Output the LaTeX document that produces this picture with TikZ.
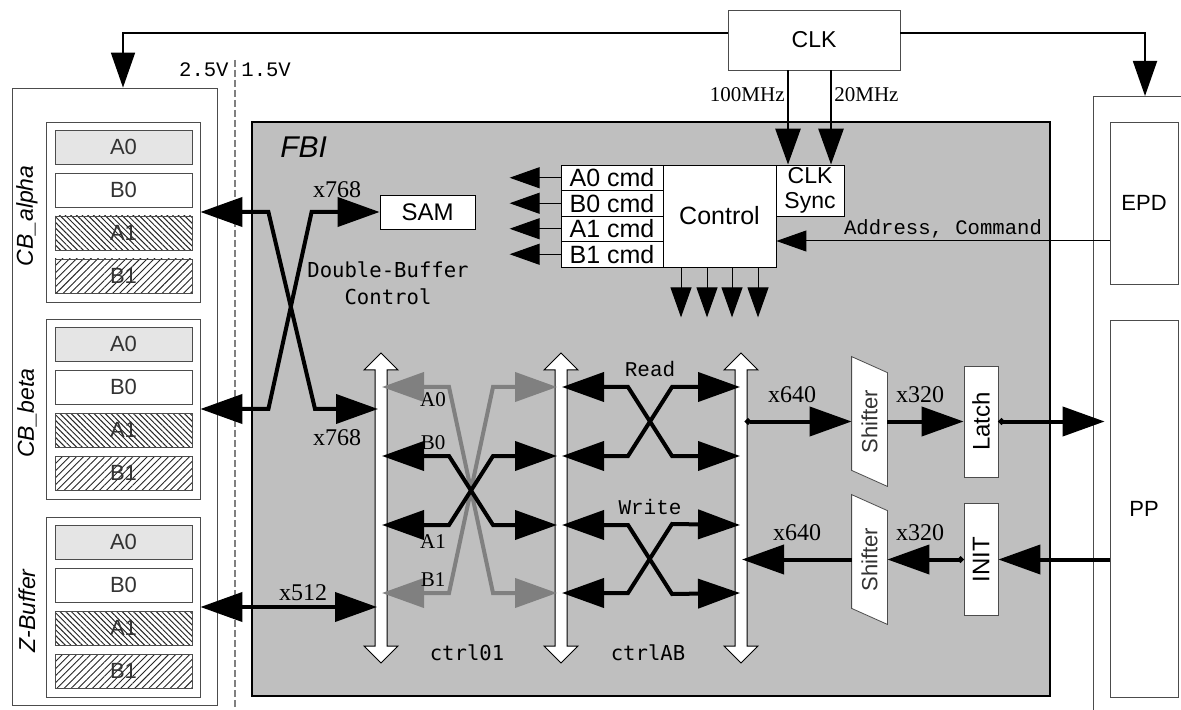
\documentclass[tikz,border=0pt]{standalone}
\usepackage{fontspec}
\setmainfont{Liberation Serif}
\setsansfont{Liberation Sans}
\setmonofont{Liberation Mono}
\newfontfamily\gulimfont{DejaVu Sans Mono}
\usetikzlibrary{arrows.meta,patterns.meta,calc,positioning}

\begin{document}
\begin{tikzpicture}[x=0.5pt, y=-0.5pt,
    box/.style={draw, fill=white, inner sep=0pt, font=\sffamily\fontsize{12.5}{14}\selectfont},
    frame/.style={draw=black!70, fill=white, inner sep=0pt, font=\sffamily\fontsize{11}{13}\selectfont},
    slot/.style={draw=black!70, inner sep=0pt, minimum width=68.5pt, minimum height=17pt, text=black!80, font=\sffamily\fontsize{11}{13}\selectfont},
    hatchA/.style={slot, pattern={Lines[angle=-45,distance=2pt,line width=0.5pt]}, pattern color=black!85},
    hatchB/.style={slot, pattern={Lines[angle=45,distance=2.5pt,line width=0.45pt]}, pattern color=black!85},
    busbar/.style={draw, fill=white, line width=0.5pt},
    numfont/.style={inner sep=1pt, font=\rmfamily\fontsize{12}{14}\selectfont},
    rowfont/.style={inner sep=1pt, font=\rmfamily\fontsize{10.5}{12}\selectfont},
    monofont/.style={inner sep=1pt, font=\ttfamily\fontsize{10.3}{12}\selectfont},
    gulim/.style={inner sep=1pt, font=\gulimfont\fontsize{10.3}{13.5}\selectfont},
    big/.style={line width=2pt, -{Triangle[length=21pt,width=14.5pt]}},
    bigboth/.style={line width=2pt, {Triangle[length=21pt,width=14.5pt]}-{Triangle[length=21pt,width=14.5pt]}},
    grayboth/.style={bigboth, draw=black!50},
    dotbig/.style={line width=2pt, {Circle[length=3pt]}-{Triangle[length=21pt,width=14.5pt]}},
    thinarr/.style={line width=0.5pt, -{Triangle[length=15pt,width=10.5pt]}},
    clkarr/.style={line width=0.9pt, -{Triangle[length=17.5pt,width=12pt]}},
    clkin/.style={line width=1.4pt, -{Triangle[length=18pt,width=12.5pt]}}
]
\useasboundingbox (0,0) rectangle (1181,710);

\node[frame, minimum width=102.5pt, minimum height=308.5pt] (mem) at (114.5,396.5) {};
\foreach \grp/\top/\name in {cba/122/CB\_alpha, cbb/319/CB\_beta, zbuf/517/Z-Buffer}{
  \node[frame, minimum width=77pt, minimum height=90pt] (\grp) at (123,\top+90) {};
  \node[slot, fill=black!10] (\grp-a0) at (123.5,\top+25) {A0};
  \node[slot, fill=white] (\grp-b0) at (123.5,\top+68) {B0};
  \node[hatchA] (\grp-a1) at (123.5,\top+111) {A1};
  \node[hatchB] (\grp-b1) at (123.5,\top+154) {B1};
  \node[rotate=90, font=\sffamily\itshape\fontsize{11.5}{13}\selectfont] (\grp-lab) at (27,\top+94) {\name};
}

\draw[black!50, line width=1pt, dash pattern=on 3.5pt off 1.5pt] (235,60) -- (235,710);
\node[monofont, anchor=east, font=\ttfamily\fontsize{10.3}{12}\selectfont] (v25) at (231,70) {2.5V};
\node[monofont, anchor=west, font=\ttfamily\fontsize{10.3}{12}\selectfont] (v15) at (239,70) {1.5V};

\node[draw, line width=1.1pt, fill=black!25, minimum width=399pt, minimum height=287pt] (fbi) at (651,409) {};
\node[anchor=west, inner sep=0pt, font=\sffamily\itshape\fontsize{15}{17}\selectfont] (fbilab) at (280,147) {FBI};

\node[box, draw=black!70, minimum width=86pt, minimum height=30pt, font=\sffamily\fontsize{11.5}{13}\selectfont] (clk) at (814,40) {CLK};
\draw[black!70] (1181,96) -- (1093,96) -- (1093,710);
\coordinate (devtop) at (1145,96);
\node[frame, minimum width=34pt, minimum height=81pt] (epd) at (1144,203) {EPD};
\node[frame, minimum width=34pt, minimum height=188.5pt] (pp) at (1144,508.5) {PP};

\draw[clkarr] ([yshift=3.5pt]clk.west) -| ([xshift=4.25pt]mem.north);
\draw[clkarr] ([yshift=3.5pt]clk.east) -| (devtop);

\foreach \i/\lab in {0/A0, 1/B0, 2/A1, 3/B1}{
  \node[box, minimum width=51pt, minimum height=12.75pt] (cmd\i) at (612,177.75+25.5*\i) {\lab\ cmd};
  \draw[thinarr] (cmd\i.west) -- ++(-51,0);
}
\node[box, minimum width=56.5pt, minimum height=51pt] (ctl) at (719.5,216) {Control};
\node[box, minimum width=34pt, minimum height=25.5pt, align=center, font=\sffamily\fontsize{11.5}{12.5}\selectfont] (sync) at (810,190.5) {CLK\\Sync};
\foreach \dx in {-19.25,-6.25,6.25,19.25}
  \draw[thinarr] ([xshift=\dx pt]ctl.south) -- ++(0,50);

\draw[clkin] ([xshift=-13pt]clk.south) -- ([xshift=-11pt]sync.north) node[pos=0.26, left, rowfont] (f100) {100MHz};
\draw[clkin] ([xshift=8.5pt]clk.south) -- ([xshift=10.5pt]sync.north) node[pos=0.26, right, rowfont] (f20) {20MHz};
\draw[thinarr] ([yshift=-19pt]epd.west) -- ([yshift=-12.5pt]ctl.east) node[midway, above, monofont] (addr) {Address, Command};

\node[box, minimum width=47.5pt, minimum height=17pt, font=\sffamily\fontsize{12}{14}\selectfont] (sam) at (427.5,212) {SAM};
\node[gulim, align=center] (dbc) at (388,283.5) {Double-Buffer\\Control};

\foreach \bx/\bn in {381/bus1, 561/bus2, 741/bus3}{
  \draw[busbar] (\bx,353) -- (\bx+17,370) -- (\bx+6,370) -- (\bx+6,646) -- (\bx+17,646) -- (\bx,663) -- (\bx-17,646) -- (\bx-6,646) -- (\bx-6,370) -- (\bx-17,370) -- cycle;
  \coordinate (\bn) at (\bx,508);
}
\coordinate (r1) at (0,387);
\coordinate (r2) at (0,456);
\coordinate (r3) at (0,525);
\coordinate (r4) at (0,593);

\draw[bigboth] (cba.east) -- ++(68,0) -- ([xshift=-33pt]bus1 |- cbb.east) -- ([xshift=-1.5pt]bus1 |- cbb.east);
\draw[bigboth] (cbb.east) -- ++(68,0) -- ([xshift=-34pt]sam.west) -- (sam.west);
\draw[bigboth] (zbuf.east) -- ([xshift=-2pt]bus1 |- zbuf.east);
\node[numfont] (w768a) at (337,190) {x768};
\node[numfont] (w768b) at (337,438) {x768};
\node[numfont] (w512) at (303,593) {x512};

\draw[grayboth] ([xshift=0.5pt]bus1 |- r1) -- ++(67,0) -- ++(44,206) -- ([xshift=-2pt]bus2 |- r4);
\draw[grayboth] ([xshift=0.5pt]bus1 |- r4) -- ++(67,0) -- ++(44,-206) -- ([xshift=-2pt]bus2 |- r1);
\draw[bigboth] ([xshift=0.5pt]bus1 |- r2) -- ++(67,0) -- ++(44,69) -- ([xshift=-2pt]bus2 |- r3);
\draw[bigboth] ([xshift=0.5pt]bus1 |- r3) -- ++(67,0) -- ++(44,-69) -- ([xshift=-2pt]bus2 |- r2);
\node[rowfont] (la0) at (433,400) {A0};
\node[rowfont] (lb0) at (433,443) {B0};
\node[rowfont] (la1) at (433,542) {A1};
\node[rowfont] (lb1) at (433,580) {B1};

\foreach \ra/\rb in {r1/r2, r3/r4}{
  \draw[bigboth] ([xshift=0.5pt]bus2 |- \ra) -- ++(66,0) -- ++(44,69) -- ([xshift=-0.5pt]bus3 |- \rb);
  \draw[bigboth] ([xshift=0.5pt]bus2 |- \rb) -- ++(66,0) -- ++(44,-69) -- ([xshift=-0.5pt]bus3 |- \ra);
}
\node[monofont, font=\ttfamily\fontsize{10.5}{12}\selectfont] (lread) at (650,369) {Read};
\node[monofont, font=\ttfamily\fontsize{10.5}{12}\selectfont] (lwrite) at (650,507) {Write};
\node[gulim] (lc01) at (467,653) {ctrl01};
\node[gulim] (lcab) at (648,653) {ctrlAB};

\foreach \sn/\sy in {sh1/421.5, sh2/559.5}{
  \node[minimum width=17.5pt, minimum height=64.5pt, inner sep=0pt] (\sn) at (869.5,\sy) {};
  \draw[black!70, fill=white] (\sn.north west) -- ([yshift=-8pt]\sn.north east) -- (\sn.south east) -- ([yshift=8pt]\sn.south west) -- cycle;
  \node[inner sep=0pt, text=black!80, font=\sffamily\fontsize{11}{13}\selectfont] (\sn-t) at (\sn) {\rotatebox{90}{Shifter}};
}
\node[frame, minimum width=17pt, minimum height=55.5pt, font=\sffamily\fontsize{12}{13}\selectfont] (latch) at (981,421.5) {\rotatebox{90}{Latch}};
\node[frame, minimum width=17pt, minimum height=56pt, font=\sffamily\fontsize{12}{13}\selectfont] (init) at (981,559.5) {\rotatebox{90}{INIT}};

\draw[dotbig] ([xshift=2pt]bus3 |- sh1.west) -- (sh1.west);
\draw[big] (sh1.east) -- (latch.west);
\draw[dotbig] (latch.east) -- ([xshift=-2.5pt]pp.west |- latch.east);
\draw[big] (pp.west |- init.east) -- (init.east);
\draw[dotbig] (init.west) -- (sh2.east);
\draw[big] (sh2.west) -- ([xshift=0.5pt]bus3 |- sh2.west);
\node[numfont] (w640a) at (792,395) {x640};
\node[numfont] (w320a) at (920,395) {x320};
\node[numfont] (w640b) at (797,533) {x640};
\node[numfont] (w320b) at (920,533) {x320};
\end{tikzpicture}
\end{document}
